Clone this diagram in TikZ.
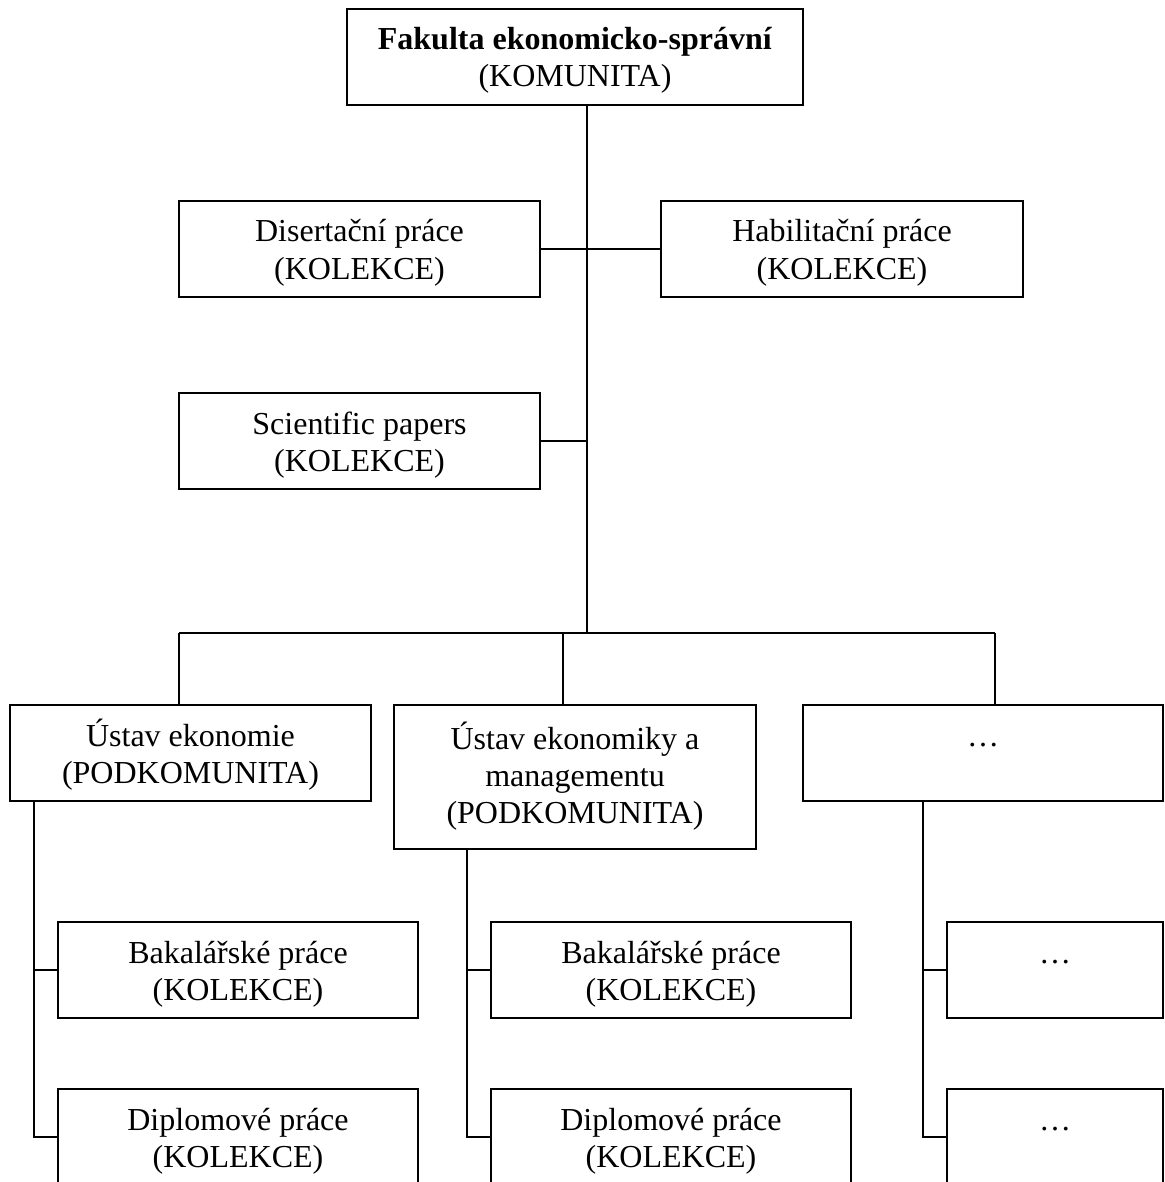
\documentclass[tikz,border=0pt]{standalone}
\usepackage{fontspec}
\setmainfont{Liberation Serif}
\usepackage{tikz}
\newcommand{\topstrut}{\rule{0pt}{35pt}}
\newcommand{\botstrut}{\rule[-12pt]{0pt}{12pt}}

\begin{document}
\begin{tikzpicture}[x=1pt,y=-1pt,
	box/.style={draw,line width=2pt,align=center,inner sep=0pt,minimum height=96pt,
		font=\fontsize{32}{37}\selectfont},
	conn/.style={line width=2pt}]
	\useasboundingbox (0,0) rectangle (1164,1182);
	% top level
	\node[box,minimum width=456pt] (fakulta) at (575,57) {\topstrut\textbf{Fakulta ekonomicko-správní}\\(KOMUNITA)\botstrut};
	\node[box,minimum width=361pt] (disert) at (359.5,249) {\topstrut Disertační práce\\(KOLEKCE)\botstrut};
	\node[box,minimum width=362pt] (habil) at (842,249) {\topstrut Habilitační práce\\(KOLEKCE)\botstrut};
	\node[box,minimum width=361pt] (sci) at (359.5,441) {\topstrut Scientific papers\\(KOLEKCE)\botstrut};
	% podkomunity
	\node[box,minimum width=361pt] (ue) at (190.5,753) {\topstrut Ústav ekonomie\\(PODKOMUNITA)\botstrut};
	\node[box,minimum width=362pt,minimum height=144pt] (uem) at (575,777) {\rule{0pt}{31pt}Ústav ekonomiky a\\managementu\\(PODKOMUNITA)\botstrut};
	\node[box,minimum width=360pt] (dalsi) at (983,753) {\topstrut…\\\botstrut};
	% kolekce
	\node[box,minimum width=360pt] (bak1) at (238,970) {\topstrut Bakalářské práce\\(KOLEKCE)\botstrut};
	\node[box,minimum width=360pt] (dip1) at (238,1137) {\topstrut Diplomové práce\\(KOLEKCE)\botstrut};
	\node[box,minimum width=360pt] (bak2) at (671,970) {\topstrut Bakalářské práce\\(KOLEKCE)\botstrut};
	\node[box,minimum width=360pt] (dip2) at (671,1137) {\topstrut Diplomové práce\\(KOLEKCE)\botstrut};
	\node[box,minimum width=216pt] (dalsiA) at (1055,970) {\topstrut…\\\botstrut};
	\node[box,minimum width=216pt] (dalsiB) at (1055,1137) {\topstrut…\\\botstrut};
	% connectors
	\coordinate (bus) at (587,633);
	\coordinate (busL) at (179,633);
	\coordinate (busM) at (563,633);
	\coordinate (busR) at (995,633);
	\draw[conn] (fakulta.south -| bus) -- (bus);
	\draw[conn] (disert.east) -- (habil.west);
	\draw[conn] (sci.east) -- (sci.east -| bus);
	\draw[conn] (busL) -- (busR);
	\draw[conn] (busL) -- (busL |- ue.north);
	\draw[conn] (busM) -- (busM |- uem.north);
	\draw[conn] (busR) -- (busR |- dalsi.north);
	\coordinate (s1) at (34,801);
	\coordinate (s2) at (467,849);
	\coordinate (s3) at (923,801);
	\draw[conn] (s1) |- (dip1.west);
	\draw[conn] (bak1.west -| s1) -- (bak1.west);
	\draw[conn] (s2) |- (dip2.west);
	\draw[conn] (bak2.west -| s2) -- (bak2.west);
	\draw[conn] (s3) |- (dalsiB.west);
	\draw[conn] (dalsiA.west -| s3) -- (dalsiA.west);
\end{tikzpicture}
\end{document}
